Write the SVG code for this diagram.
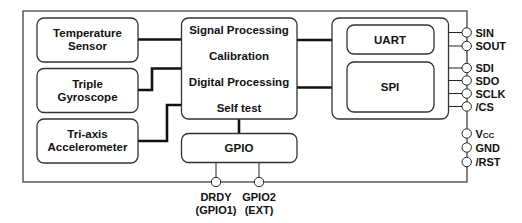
<svg xmlns="http://www.w3.org/2000/svg" width="522" height="223" viewBox="0 0 522 223">
<style>
.box{fill:#fff;stroke:#333;stroke-width:1.3}
.t{font-family:"Liberation Sans",Arial,sans-serif;font-weight:bold;font-size:11.5px;fill:#111;text-anchor:middle}
.p{font-family:"Liberation Sans",Arial,sans-serif;font-weight:bold;font-size:11px;fill:#111}
.thick{fill:none;stroke:#111;stroke-width:2.6}
.thin{fill:none;stroke:#222;stroke-width:1}
.pin{fill:#fff;stroke:#222;stroke-width:1}
</style>
<rect width="522" height="223" fill="#fff"/>
<g id="outer">
<rect x="23" y="11" width="444" height="171" fill="none" stroke="#333" stroke-width="1.2"/>
</g>
<g id="connectors">
<path class="thick" d="M138,39.5 H182"/>
<path class="thick" d="M138,90 H152 V68.5 H182"/>
<path class="thick" d="M138,141 H167 V105 H182"/>
<path class="thick" d="M297,40 H347"/>
<path class="thick" d="M297,87.5 H347"/>
<path class="thick" d="M239,119 V133"/>
<path class="thin" d="M216,162 V177 M259,162 V177"/>
<path class="thin" d="M434,32.5 H462 M434,46 H462"/>
<path class="thin" d="M434,68 H462 M434,80.5 H462 M434,93.5 H462 M434,106.5 H462"/>
</g>
<g id="temperature-sensor">
<rect class="box" x="37" y="18" width="101" height="44" rx="7"/>
<text class="t" x="87.5" y="37">Temperature</text>
<text class="t" x="87.5" y="50">Sensor</text>
</g>
<g id="triple-gyroscope">
<rect class="box" x="37" y="68.5" width="101" height="44" rx="7"/>
<text class="t" x="87.5" y="87.5">Triple</text>
<text class="t" x="87.5" y="100.5">Gyroscope</text>
</g>
<g id="accelerometer">
<rect class="box" x="37" y="119" width="101" height="44" rx="7"/>
<text class="t" x="87.5" y="138">Tri-axis</text>
<text class="t" x="87.5" y="151">Accelerometer</text>
</g>
<g id="processing">
<rect class="box" x="181.5" y="18" width="115.5" height="101" rx="7"/>
<text class="t" x="239" y="33.5">Signal Processing</text>
<text class="t" x="239" y="59.5">Calibration</text>
<text class="t" x="239" y="85.5">Digital Processing</text>
<text class="t" x="239" y="111.5">Self test</text>
</g>
<g id="gpio">
<rect class="box" x="181.5" y="133.5" width="115.5" height="29" rx="7"/>
<text class="t" x="239" y="152">GPIO</text>
</g>
<g id="interface">
<rect class="box" x="332" y="18" width="116.5" height="101" rx="7"/>
</g>
<g id="uart">
<rect class="box" x="347" y="25" width="87" height="29" rx="7"/>
<text class="t" x="390" y="44">UART</text>
</g>
<g id="spi">
<rect class="box" x="347" y="62" width="87" height="50" rx="7"/>
<text class="t" x="390" y="91">SPI</text>
</g>
<g id="pins">
<circle class="pin" cx="466.7" cy="32.5" r="4.7"/>
<circle class="pin" cx="466.7" cy="46" r="4.7"/>
<circle class="pin" cx="466.7" cy="68" r="4.7"/>
<circle class="pin" cx="466.7" cy="80.5" r="4.7"/>
<circle class="pin" cx="466.7" cy="93.5" r="4.7"/>
<circle class="pin" cx="466.7" cy="106.5" r="4.7"/>
<circle class="pin" cx="466.7" cy="133.5" r="4.7"/>
<circle class="pin" cx="466.7" cy="147.5" r="4.7"/>
<circle class="pin" cx="466.7" cy="162" r="4.7"/>
<circle class="pin" cx="216" cy="182" r="4.7"/>
<circle class="pin" cx="259" cy="182" r="4.7"/>
<text class="p" x="475.5" y="36.5">SIN</text>
<text class="p" x="475.5" y="50">SOUT</text>
<text class="p" x="475.5" y="72">SDI</text>
<text class="p" x="475.5" y="84.5">SDO</text>
<text class="p" x="475.5" y="97.5">SCLK</text>
<text class="p" x="475.5" y="110.5">/CS</text>
<text class="p" x="475.5" y="137.5">V<tspan font-size="8">CC</tspan></text>
<text class="p" x="475.5" y="151.5">GND</text>
<text class="p" x="475.5" y="166">/RST</text>
<text class="t" x="216" y="201" style="font-size:11px">DRDY</text>
<text class="t" x="216" y="214" style="font-size:11px">(GPIO1)</text>
<text class="t" x="259" y="201" style="font-size:11px">GPIO2</text>
<text class="t" x="259" y="214" style="font-size:11px">(EXT)</text>
</g>
</svg>
